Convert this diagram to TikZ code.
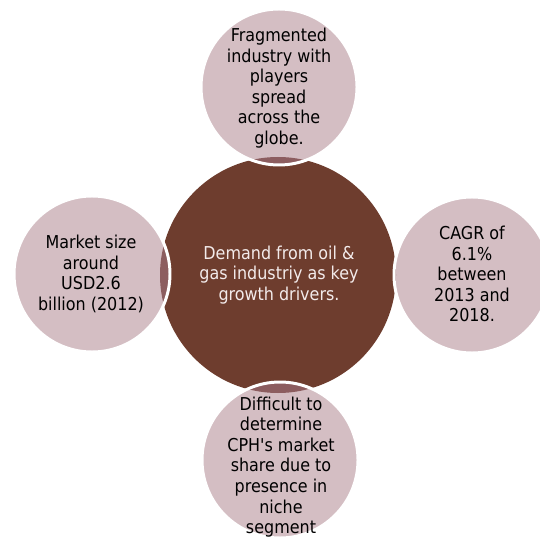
\documentclass[tikz,border=0pt]{standalone}
\usepackage{fontspec}
\setmainfont{DejaVu Sans Condensed}[Ligatures=TeXOff]
\begin{document}
\definecolor{hub}{HTML}{6E3D2E}
\definecolor{petal}{HTML}{D4BEC3}
\definecolor{overlap}{HTML}{8C5D5F}
\definecolor{hubtext}{HTML}{F3EBEB}
\begin{tikzpicture}[x=0.02cm,y=-0.02cm,
  petalfill/.style={fill=petal},
  petaledge/.style={draw=white,line width=1.7pt},
  label/.style={align=center,inner sep=0pt,font=\fontsize{10.1}{11.7}\selectfont},
  petallabel/.style={label,text=black},
  hublabel/.style={label,text=hubtext}]
\useasboundingbox (0,0) rectangle (540,540);

% centres of the hub and the four petals
\coordinate (hubc) at (278,275);
\coordinate (topc) at (279,87);
\coordinate (leftc) at (92,274);
\coordinate (rightc) at (472,275);
\coordinate (botc) at (280,460);

% hub disc
\fill[hub] (hubc) circle[radius=118];

% petal discs
\foreach \p in {topc,leftc,rightc,botc}
  \fill[petalfill] (\p) circle[radius=78];

% darker lenses where petals cover the hub
\begin{scope}
  \clip (hubc) circle[radius=118];
  \foreach \p in {topc,leftc,rightc,botc}
    \fill[overlap] (\p) circle[radius=78];
\end{scope}

% white petal rims
\foreach \p in {topc,leftc,rightc,botc}
  \draw[petaledge] (\p) circle[radius=78];

% texts
\node[hublabel] (hubt) at (279,275) {Demand from oil \&\\gas industriy as key\\growth drivers.};
\node[petallabel] (topt) at (279,88) {Fragmented\\industry with\\players\\spread\\across the\\globe.};
\node[petallabel] (leftt) at (91,274) {Market size\\around\\USD2.6\\billion (2012)};
\node[petallabel] (rightt) at (472,274) {CAGR of\\6.1\%\\between\\2013 and\\2018.};
\node[petallabel] (bott) at (281,467) {Difficult to\\determine\\CPH's market\\share due to\\presence in\\niche\\segment};
\end{tikzpicture}
\end{document}
